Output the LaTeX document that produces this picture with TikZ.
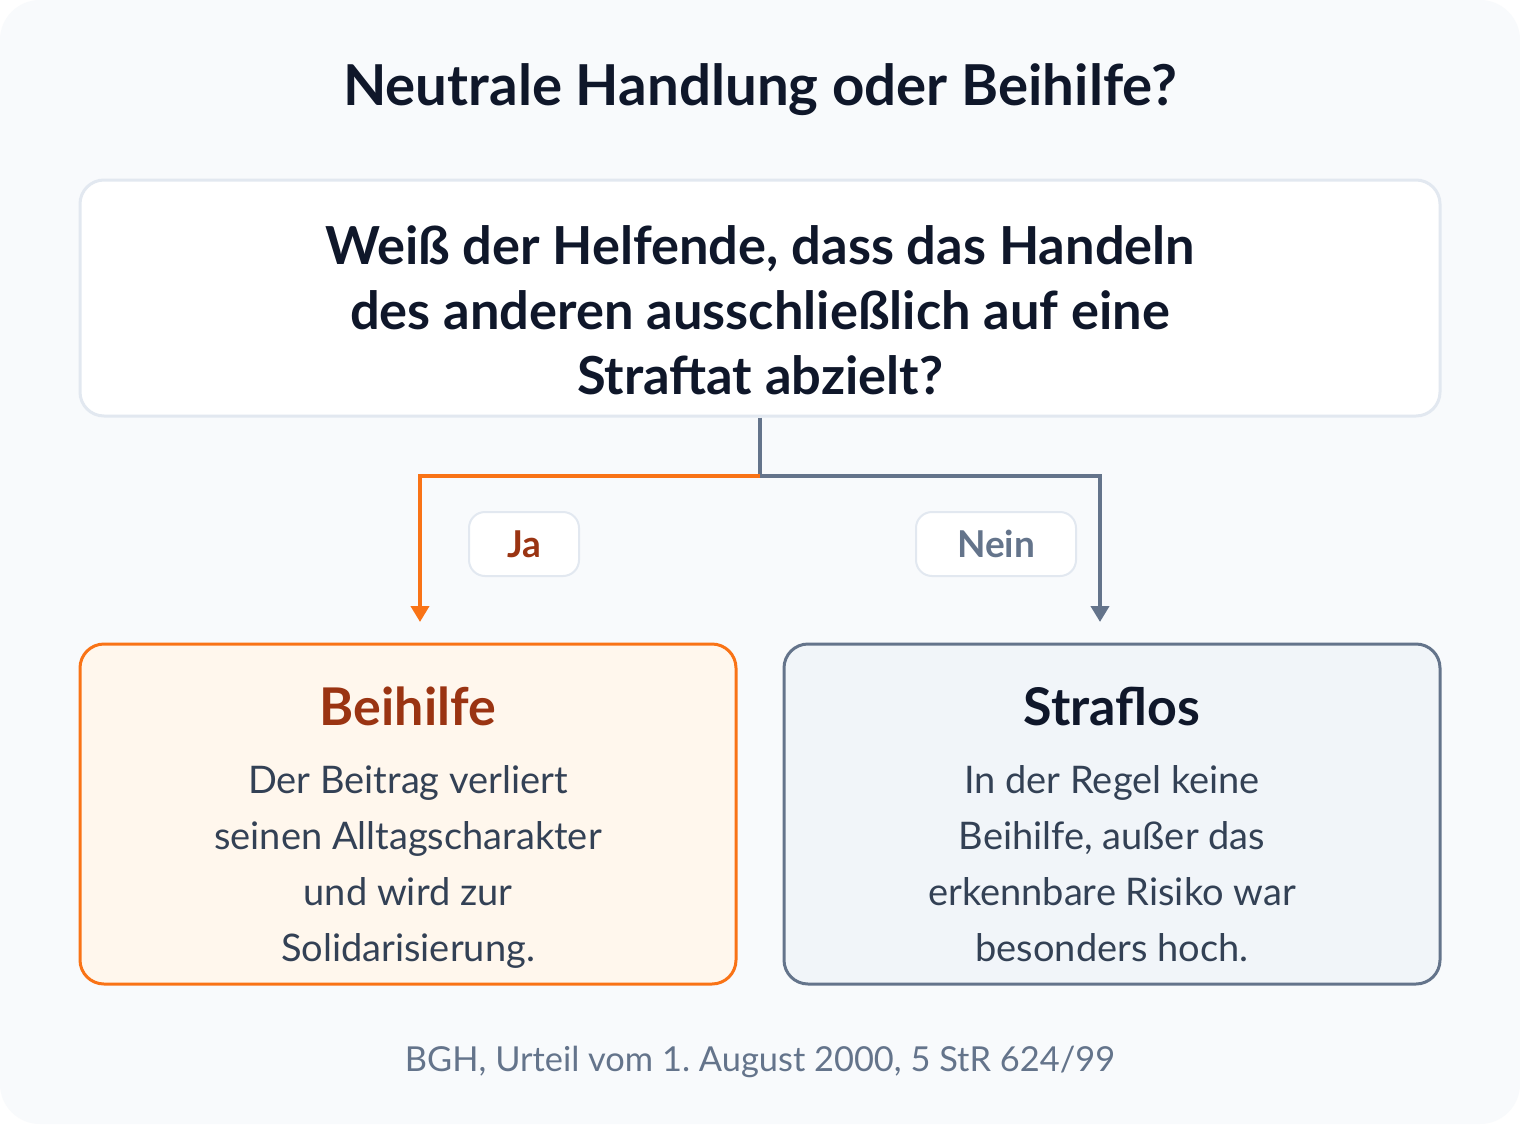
\documentclass[tikz,border=0pt]{standalone}
\usepackage{fontspec}
\setmainfont{Lato}
\usetikzlibrary{arrows.meta}

\definecolor{bgcol}{HTML}{F8FAFC}
\definecolor{ink}{HTML}{0F172A}
\definecolor{bodyink}{HTML}{334155}
\definecolor{slate}{HTML}{64748B}
\definecolor{rim}{HTML}{E2E8F0}
\definecolor{jaorange}{HTML}{F97316}
\definecolor{jabrown}{HTML}{9A3412}
\definecolor{jafill}{HTML}{FFF7ED}
\definecolor{neinfill}{HTML}{F1F5F9}

\tikzset{
  frame/.style={rectangle, rounded corners=12pt, line width=1.5pt},
  answer/.style={frame, minimum width=328pt, minimum height=170pt},
  tag/.style={rectangle, rounded corners=8pt, draw=rim, line width=1pt, fill=white,
    minimum height=32pt, font=\fontsize{18.5}{22}\selectfont\bfseries},
  head/.style={anchor=base, font=\fontsize{26}{30}\selectfont\bfseries},
  body/.style={anchor=north, align=center, text=bodyink, font=\fontsize{19}{28}\selectfont},
  branch/.style={line width=2pt, -{Triangle[length=8pt,width=9pt]}}
}

\begin{document}
\begin{tikzpicture}[x=0.5pt, y=-0.5pt]
  % Background
  \fill[white] (0,0) rectangle (1520,1124);
  \useasboundingbox (0,0) rectangle (1520,1124);
  \fill[bgcol, rounded corners=20pt] (0,0) rectangle (1520,1124);

  % Nodes
  \node[anchor=base, text=ink, font=\fontsize{28.2}{32}\selectfont\bfseries] (title) at (760,105) {Neutrale Handlung oder Beihilfe?};
  \node[frame, draw=rim, fill=white, minimum width=680pt, minimum height=118pt] (frage) at (760,298) {};
  \node[align=center, text=ink, font=\fontsize{26.2}{32.5}\selectfont\bfseries] (fragetext) at (760,310)
    {Weiß der Helfende, dass das Handeln\\des anderen ausschließlich auf eine\\Straftat abzielt?};

  \node[answer, draw=jaorange, fill=jafill] (beihilfe) at (408,814) {};
  \node[answer, draw=slate, fill=neinfill] (straflos) at (1112,814) {};
  \node[head, text=jabrown] (beihilfekopf) at (408,725) {Beihilfe};
  \node[head, text=ink] (straflokopf) at (1112,725) {Straflos};
  \node[body] (beihilfetext) at (408,758)
    {Der Beitrag verliert\\seinen Alltagscharakter\\und wird zur\\Solidarisierung.};
  \node[body] (straflostext) at (1112,758)
    {In der Regel keine\\Beihilfe, außer das\\erkennbare Risiko war\\besonders hoch.};

  \node[tag, text=jabrown, minimum width=55pt] (ja) at (524,544) {Ja};
  \node[tag, text=slate, minimum width=80pt] (nein) at (996,544) {Nein};

  \node[anchor=base, text=slate, font=\fontsize{17.2}{20}\selectfont] (quelle) at (760,1071) {BGH, Urteil vom 1.\ August 2000, 5 StR 624/99};

  % Edges
  \coordinate (split) at (760,476);
  \coordinate (jaend) at (420,622);
  \coordinate (neinend) at (1100,622);
  \draw[branch, draw=slate] (frage.south) -- (split) -| (neinend);
  \draw[branch, draw=jaorange] (split) -| (jaend);
\end{tikzpicture}
\end{document}
